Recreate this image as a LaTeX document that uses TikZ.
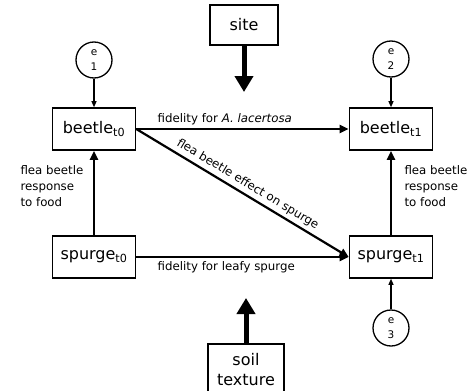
\documentclass[tikz,border=0pt]{standalone}
\usepackage{fontspec}
\setmainfont{DejaVu Sans}
\usetikzlibrary{arrows.meta}

\tikzset{
	vbox/.style = {draw, line width=1.6pt, minimum width=83pt, minimum height=42pt, inner sep=0pt, font=\fontsize{16}{20}\selectfont, align=center},
	err/.style = {draw, circle, line width=1.3pt, minimum size=36pt, inner sep=0pt, font=\fontsize{10.5}{15}\selectfont, align=center},
	link/.style = {line width=2.2pt, -{Triangle[length=9pt,width=8pt]}},
	errlink/.style = {line width=1.1pt, -{Triangle[length=6pt,width=5pt]}},
	exo/.style = {line width=5pt, -{Triangle[length=16pt,width=18pt]}},
	lbl/.style = {font=\fontsize{11.8}{16}\selectfont, align=left},
}

\begin{document}
\begin{tikzpicture}[x=1pt,y=-1pt]
	\useasboundingbox (0,0) rectangle (469,391);
	\clip (0,0) rectangle (469,391);
	\node[vbox, minimum width=68pt, minimum height=40pt] (site) at (244,25) {site};
	\node[vbox, minimum width=76pt, minimum height=52pt] (soil) at (246,370) {soil\\texture};
	\node[vbox] (beetle0) at (94,129) {beetle\textsubscript{t0}};
	\node[vbox] (beetle1) at (391,129) {beetle\textsubscript{t1}};
	\node[vbox] (spurge0) at (94,257) {spurge\textsubscript{t0}};
	\node[vbox] (spurge1) at (391,257) {spurge\textsubscript{t1}};
	\node[err] (e1) at (94,60) {e\\1};
	\node[err] (e2) at (391,59) {e\\2};
	\node[err] (e3) at (391,328) {e\\3};
	\coordinate (sitetip) at (244,92);
	\coordinate (soiltip) at (246,298);
	\draw[errlink] (e1) -- (beetle0);
	\draw[errlink] (e2) -- (beetle1);
	\draw[errlink] (e3) -- (spurge1);
	\draw[exo] (site) -- (sitetip);
	\draw[exo] (soil) -- (soiltip);
	\draw[link] (beetle0) -- node[lbl, pos=0.08, anchor=south west] {fidelity for \textit{A. lacertosa}} (beetle1);
	\draw[link] (spurge0) -- node[lbl, pos=0.08, anchor=north west] {fidelity for leafy spurge} (spurge1);
	\draw[link] (beetle0.east) -- node[lbl, midway, sloped, above] {flea beetle effect on spurge} (spurge1.west);
	\draw[link] (spurge0) -- (beetle0);
	\draw[link] (spurge1) -- (beetle1);
	\node[lbl, anchor=west] (resp0) at (17,186) {flea beetle\\response\\to food};
	\node[lbl, anchor=west] (resp1) at (401,186) {flea beetle\\response\\to food};
\end{tikzpicture}
\end{document}
